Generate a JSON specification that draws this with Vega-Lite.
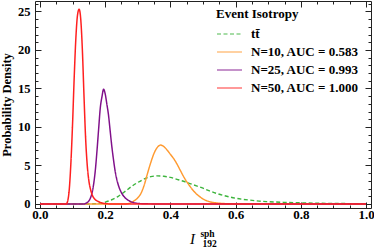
{
  "$schema": "https://vega.github.io/schema/vega-lite/v6.json",
  "width": 336,
  "height": 207,
  "autosize": {"type": "none"},
  "padding": {"left": 35, "top": 1, "right": 3, "bottom": 39},
  "config": {"view": {"stroke": "#222", "strokeWidth": 1}, "font": "Liberation Serif"},
  "data": {"values": [
    {"s": "tt\u0304", "x": 0, "y": 0}, {"s": "tt\u0304", "x": 0.15, "y": 0}, {"s": "tt\u0304", "x": 0.16, "y": 0.02}, {"s": "tt\u0304", "x": 0.18, "y": 0.08}, {"s": "tt\u0304", "x": 0.2, "y": 0.25}, {"s": "tt\u0304", "x": 0.22, "y": 0.55}, {"s": "tt\u0304", "x": 0.24, "y": 1.0}, {"s": "tt\u0304", "x": 0.26, "y": 1.6}, {"s": "tt\u0304", "x": 0.28, "y": 2.25}, {"s": "tt\u0304", "x": 0.3, "y": 2.8}, {"s": "tt\u0304", "x": 0.32, "y": 3.25}, {"s": "tt\u0304", "x": 0.34, "y": 3.55}, {"s": "tt\u0304", "x": 0.36, "y": 3.65}, {"s": "tt\u0304", "x": 0.38, "y": 3.6}, {"s": "tt\u0304", "x": 0.4, "y": 3.45}, {"s": "tt\u0304", "x": 0.42, "y": 3.2}, {"s": "tt\u0304", "x": 0.44, "y": 2.95}, {"s": "tt\u0304", "x": 0.46, "y": 2.65}, {"s": "tt\u0304", "x": 0.48, "y": 2.35}, {"s": "tt\u0304", "x": 0.5, "y": 2.05}, {"s": "tt\u0304", "x": 0.52, "y": 1.7}, {"s": "tt\u0304", "x": 0.54, "y": 1.4}, {"s": "tt\u0304", "x": 0.56, "y": 1.15}, {"s": "tt\u0304", "x": 0.58, "y": 0.93}, {"s": "tt\u0304", "x": 0.6, "y": 0.75}, {"s": "tt\u0304", "x": 0.62, "y": 0.62}, {"s": "tt\u0304", "x": 0.64, "y": 0.52}, {"s": "tt\u0304", "x": 0.66, "y": 0.43}, {"s": "tt\u0304", "x": 0.68, "y": 0.35}, {"s": "tt\u0304", "x": 0.7, "y": 0.3}, {"s": "tt\u0304", "x": 0.75, "y": 0.21}, {"s": "tt\u0304", "x": 0.8, "y": 0.15}, {"s": "tt\u0304", "x": 0.85, "y": 0.1}, {"s": "tt\u0304", "x": 0.9, "y": 0.07}, {"s": "tt\u0304", "x": 0.95, "y": 0.05}, {"s": "tt\u0304", "x": 1.0, "y": 0.03},
    {"s": "N=10, AUC = 0.583", "x": 0, "y": 0}, {"s": "N=10, AUC = 0.583", "x": 0.26, "y": 0}, {"s": "N=10, AUC = 0.583", "x": 0.27, "y": 0.05}, {"s": "N=10, AUC = 0.583", "x": 0.28, "y": 0.2}, {"s": "N=10, AUC = 0.583", "x": 0.29, "y": 0.45}, {"s": "N=10, AUC = 0.583", "x": 0.3, "y": 0.8}, {"s": "N=10, AUC = 0.583", "x": 0.31, "y": 1.4}, {"s": "N=10, AUC = 0.583", "x": 0.32, "y": 2.5}, {"s": "N=10, AUC = 0.583", "x": 0.33, "y": 4.0}, {"s": "N=10, AUC = 0.583", "x": 0.34, "y": 5.4}, {"s": "N=10, AUC = 0.583", "x": 0.35, "y": 6.6}, {"s": "N=10, AUC = 0.583", "x": 0.36, "y": 7.35}, {"s": "N=10, AUC = 0.583", "x": 0.37, "y": 7.65}, {"s": "N=10, AUC = 0.583", "x": 0.38, "y": 7.45}, {"s": "N=10, AUC = 0.583", "x": 0.39, "y": 7.0}, {"s": "N=10, AUC = 0.583", "x": 0.4, "y": 6.45}, {"s": "N=10, AUC = 0.583", "x": 0.41, "y": 5.9}, {"s": "N=10, AUC = 0.583", "x": 0.42, "y": 5.2}, {"s": "N=10, AUC = 0.583", "x": 0.43, "y": 4.4}, {"s": "N=10, AUC = 0.583", "x": 0.44, "y": 3.6}, {"s": "N=10, AUC = 0.583", "x": 0.45, "y": 2.9}, {"s": "N=10, AUC = 0.583", "x": 0.46, "y": 2.3}, {"s": "N=10, AUC = 0.583", "x": 0.47, "y": 1.75}, {"s": "N=10, AUC = 0.583", "x": 0.48, "y": 1.3}, {"s": "N=10, AUC = 0.583", "x": 0.49, "y": 0.95}, {"s": "N=10, AUC = 0.583", "x": 0.5, "y": 0.65}, {"s": "N=10, AUC = 0.583", "x": 0.52, "y": 0.3}, {"s": "N=10, AUC = 0.583", "x": 0.54, "y": 0.15}, {"s": "N=10, AUC = 0.583", "x": 0.56, "y": 0.07}, {"s": "N=10, AUC = 0.583", "x": 0.58, "y": 0.03}, {"s": "N=10, AUC = 0.583", "x": 0.6, "y": 0.01}, {"s": "N=10, AUC = 0.583", "x": 0.62, "y": 0}, {"s": "N=10, AUC = 0.583", "x": 1.0, "y": 0},
    {"s": "N=25, AUC = 0.993", "x": 0, "y": 0}, {"s": "N=25, AUC = 0.993", "x": 0.135, "y": 0}, {"s": "N=25, AUC = 0.993", "x": 0.14, "y": 0.08}, {"s": "N=25, AUC = 0.993", "x": 0.145, "y": 0.2}, {"s": "N=25, AUC = 0.993", "x": 0.15, "y": 0.4}, {"s": "N=25, AUC = 0.993", "x": 0.155, "y": 0.8}, {"s": "N=25, AUC = 0.993", "x": 0.16, "y": 1.5}, {"s": "N=25, AUC = 0.993", "x": 0.165, "y": 2.7}, {"s": "N=25, AUC = 0.993", "x": 0.17, "y": 4.5}, {"s": "N=25, AUC = 0.993", "x": 0.175, "y": 7.0}, {"s": "N=25, AUC = 0.993", "x": 0.18, "y": 9.8}, {"s": "N=25, AUC = 0.993", "x": 0.185, "y": 12.5}, {"s": "N=25, AUC = 0.993", "x": 0.19, "y": 13.9}, {"s": "N=25, AUC = 0.993", "x": 0.195, "y": 14.9}, {"s": "N=25, AUC = 0.993", "x": 0.2, "y": 14.3}, {"s": "N=25, AUC = 0.993", "x": 0.205, "y": 13.0}, {"s": "N=25, AUC = 0.993", "x": 0.21, "y": 11.6}, {"s": "N=25, AUC = 0.993", "x": 0.215, "y": 9.6}, {"s": "N=25, AUC = 0.993", "x": 0.22, "y": 7.6}, {"s": "N=25, AUC = 0.993", "x": 0.225, "y": 5.9}, {"s": "N=25, AUC = 0.993", "x": 0.23, "y": 4.4}, {"s": "N=25, AUC = 0.993", "x": 0.235, "y": 3.3}, {"s": "N=25, AUC = 0.993", "x": 0.24, "y": 2.5}, {"s": "N=25, AUC = 0.993", "x": 0.25, "y": 1.45}, {"s": "N=25, AUC = 0.993", "x": 0.26, "y": 0.85}, {"s": "N=25, AUC = 0.993", "x": 0.27, "y": 0.5}, {"s": "N=25, AUC = 0.993", "x": 0.28, "y": 0.28}, {"s": "N=25, AUC = 0.993", "x": 0.29, "y": 0.15}, {"s": "N=25, AUC = 0.993", "x": 0.3, "y": 0.08}, {"s": "N=25, AUC = 0.993", "x": 0.32, "y": 0.03}, {"s": "N=25, AUC = 0.993", "x": 0.35, "y": 0.01}, {"s": "N=25, AUC = 0.993", "x": 0.4, "y": 0}, {"s": "N=25, AUC = 0.993", "x": 1.0, "y": 0},
    {"s": "N=50, AUC = 1.000", "x": 0, "y": 0}, {"s": "N=50, AUC = 1.000", "x": 0.08, "y": 0}, {"s": "N=50, AUC = 1.000", "x": 0.085, "y": 0.4}, {"s": "N=50, AUC = 1.000", "x": 0.09, "y": 2.0}, {"s": "N=50, AUC = 1.000", "x": 0.095, "y": 5.5}, {"s": "N=50, AUC = 1.000", "x": 0.1, "y": 10.5}, {"s": "N=50, AUC = 1.000", "x": 0.105, "y": 16.5}, {"s": "N=50, AUC = 1.000", "x": 0.11, "y": 21.5}, {"s": "N=50, AUC = 1.000", "x": 0.115, "y": 24.5}, {"s": "N=50, AUC = 1.000", "x": 0.12, "y": 25.3}, {"s": "N=50, AUC = 1.000", "x": 0.125, "y": 24.0}, {"s": "N=50, AUC = 1.000", "x": 0.13, "y": 20.0}, {"s": "N=50, AUC = 1.000", "x": 0.135, "y": 14.0}, {"s": "N=50, AUC = 1.000", "x": 0.14, "y": 8.5}, {"s": "N=50, AUC = 1.000", "x": 0.145, "y": 5.0}, {"s": "N=50, AUC = 1.000", "x": 0.15, "y": 3.0}, {"s": "N=50, AUC = 1.000", "x": 0.155, "y": 1.9}, {"s": "N=50, AUC = 1.000", "x": 0.16, "y": 1.2}, {"s": "N=50, AUC = 1.000", "x": 0.17, "y": 0.55}, {"s": "N=50, AUC = 1.000", "x": 0.18, "y": 0.3}, {"s": "N=50, AUC = 1.000", "x": 0.19, "y": 0.13}, {"s": "N=50, AUC = 1.000", "x": 0.2, "y": 0.05}, {"s": "N=50, AUC = 1.000", "x": 0.22, "y": 0}, {"s": "N=50, AUC = 1.000", "x": 1.0, "y": 0}
  ]},
  "layer": [
    {
      "mark": {"type": "line", "interpolate": "monotone", "clip": true},
      "encoding": {
        "x": {"field": "x", "type": "quantitative",
          "scale": {"domain": [-0.0153, 1.0153], "nice": false, "zero": false},
          "axis": {"orient": "bottom", "values": [0, 0.05, 0.1, 0.15, 0.2, 0.25, 0.3, 0.35, 0.4, 0.45, 0.5, 0.55, 0.6, 0.65, 0.7, 0.75, 0.8, 0.85, 0.9, 0.95, 1.0],
            "labelExpr": "abs(datum.value*5 - round(datum.value*5)) < 1e-6 ? format(datum.value, '.1f') : ''",
            "grid": false, "domain": false, "tickColor": "#222", "tickWidth": 1,
            "tickSize": {"condition": {"test": "abs(datum.value*5 - round(datum.value*5)) < 1e-6", "value": -6}, "value": -3},
            "labelOverlap": false, "labelFlush": false,
            "labelFont": "Liberation Serif", "labelFontWeight": "bold", "labelFontSize": 13, "labelColor": "black", "labelPadding": 6,
            "title": "I", "titleFont": "Liberation Serif", "titleFontStyle": "italic", "titleFontWeight": "normal", "titleFontSize": 15, "titleColor": "black",
            "titleX": 157, "titleY": 35, "titleBaseline": "alphabetic", "titleAlign": "center", "titleAnchor": null}},
        "y": {"field": "y", "type": "quantitative",
          "scale": {"domain": [-0.52, 26.36], "nice": false, "zero": false},
          "axis": {"orient": "left", "values": [0,1,2,3,4,5,6,7,8,9,10,11,12,13,14,15,16,17,18,19,20,21,22,23,24,25,26],
            "labelExpr": "datum.value % 5 === 0 ? datum.label : ''",
            "grid": false, "domain": false, "tickColor": "#222", "tickWidth": 1,
            "tickSize": {"condition": {"test": "datum.value % 5 === 0", "value": -6}, "value": -3},
            "labelOverlap": false, "labelFlush": false,
            "labelFont": "Liberation Serif", "labelFontWeight": "bold", "labelFontSize": 12.5, "labelColor": "black", "labelPadding": 11,
            "title": "Probability Density", "titleFont": "Liberation Serif", "titleFontWeight": "bold", "titleFontSize": 12.5, "titleColor": "black", "titlePadding": 4}},
        "color": {"field": "s", "type": "nominal",
          "scale": {"domain": ["tt\u0304", "N=10, AUC = 0.583", "N=25, AUC = 0.993", "N=50, AUC = 1.000"], "range": ["#3cb43c", "#ff9a30", "#80108a", "#ff2020"]},
          "legend": {"title": "Event Isotropy", "orient": "none", "legendX": 181, "legendY": 7, "padding": 0,
            "titleFont": "Liberation Serif", "titleFontWeight": "bold", "titleFontSize": 13, "titleColor": "black", "titlePadding": 6,
            "labelFont": "Liberation Serif", "labelFontWeight": "bold", "labelFontSize": 13, "labelColor": "black", "labelOffset": 8,
            "symbolType": "stroke", "symbolSize": 625, "symbolStrokeWidth": 2, "symbolOpacity": 0.6, "clipHeight": 14, "rowPadding": 4}},
        "strokeDash": {"field": "s", "type": "nominal",
          "scale": {"domain": ["tt\u0304", "N=10, AUC = 0.583", "N=25, AUC = 0.993", "N=50, AUC = 1.000"], "range": [[4, 2.5], [1, 0], [1, 0], [1, 0]]},
          "legend": {"title": "Event Isotropy"}},
        "strokeWidth": {"field": "s", "type": "nominal",
          "scale": {"domain": ["tt\u0304", "N=10, AUC = 0.583", "N=25, AUC = 0.993", "N=50, AUC = 1.000"], "range": [1.4, 1.5, 2.1, 1.6]},
          "legend": null}
      }
    },
    {
      "mark": {"type": "point", "opacity": 0},
      "encoding": {
        "x": {"field": "x", "type": "quantitative",
          "axis": {"orient": "top", "values": [0, 0.05, 0.1, 0.15, 0.2, 0.25, 0.3, 0.35, 0.4, 0.45, 0.5, 0.55, 0.6, 0.65, 0.7, 0.75, 0.8, 0.85, 0.9, 0.95, 1.0],
            "labels": false, "grid": false, "domain": false, "tickColor": "#222", "tickWidth": 1,
            "tickSize": {"condition": {"test": "abs(datum.value*5 - round(datum.value*5)) < 1e-6", "value": -6}, "value": -3}, "title": null}},
        "y": {"field": "y", "type": "quantitative",
          "axis": {"orient": "right", "values": [0,1,2,3,4,5,6,7,8,9,10,11,12,13,14,15,16,17,18,19,20,21,22,23,24,25,26],
            "labels": false, "grid": false, "domain": false, "tickColor": "#222", "tickWidth": 1,
            "tickSize": {"condition": {"test": "datum.value % 5 === 0", "value": -6}, "value": -3}, "title": null}}
      }
    },
    {
      "mark": {"type": "point", "opacity": 0},
      "encoding": {
        "x": {"field": "x", "type": "quantitative",
          "axis": {"orient": "bottom", "labels": false, "ticks": false, "grid": false, "domain": false,
            "title": "sph", "titleFont": "Liberation Serif", "titleFontWeight": "bold", "titleFontSize": 9.5, "titleColor": "black",
            "titleX": 172, "titleY": 28, "titleBaseline": "alphabetic", "titleAlign": "center", "titleAnchor": null}},
        "y": {"field": "y", "type": "quantitative", "axis": null}
      }
    },
    {
      "mark": {"type": "point", "opacity": 0},
      "encoding": {
        "x": {"field": "x", "type": "quantitative",
          "axis": {"orient": "bottom", "labels": false, "ticks": false, "grid": false, "domain": false,
            "title": "192", "titleFont": "Liberation Serif", "titleFontWeight": "bold", "titleFontSize": 9.5, "titleColor": "black",
            "titleX": 174, "titleY": 38, "titleBaseline": "alphabetic", "titleAlign": "center", "titleAnchor": null}},
        "y": {"field": "y", "type": "quantitative", "axis": null}
      }
    }
  ],
  "resolve": {"axis": {"x": "independent", "y": "independent"}}
}
